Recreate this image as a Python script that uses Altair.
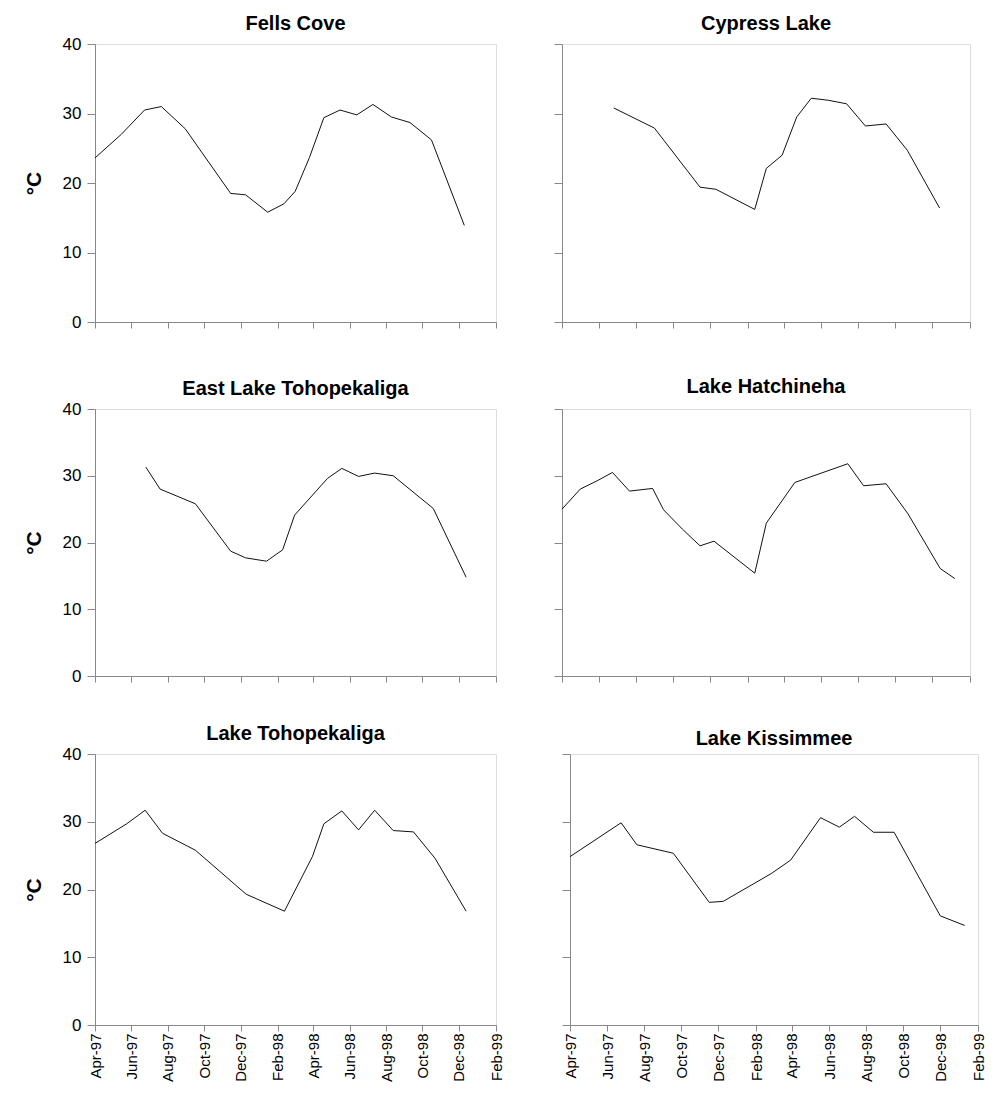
import altair as alt
import pandas as pd

# ---- data (water temperature, deg C) ----
fells_dates = ["1997-04-01", "1997-05-15", "1997-06-23", "1997-07-21", "1997-08-30",
               "1997-11-14", "1997-12-09", "1998-01-15", "1998-02-11", "1998-03-02",
               "1998-03-26", "1998-04-19", "1998-05-16", "1998-06-13", "1998-07-10",
               "1998-08-10", "1998-09-10", "1998-10-16", "1998-12-10"]
fells_temp = [23.6, 27.0, 30.5, 31.0, 27.8, 18.5, 18.3, 15.8, 17.0, 18.8,
              23.7, 29.4, 30.5, 29.8, 31.3, 29.5, 28.7, 26.2, 13.9]

cypress_dates = ["1997-06-25", "1997-08-31", "1997-11-14", "1997-12-10", "1998-02-12",
                 "1998-03-03", "1998-03-29", "1998-04-22", "1998-05-16", "1998-06-13",
                 "1998-07-13", "1998-08-13", "1998-09-16", "1998-10-21", "1998-12-13"]
cypress_temp = [30.8, 27.9, 19.4, 19.1, 16.2, 22.1, 24.0, 29.5, 32.2, 31.9,
                31.4, 28.2, 28.5, 24.7, 16.4]

eastlake_dates = ["1997-06-25", "1997-07-19", "1997-09-16", "1997-11-14", "1997-12-09",
                  "1998-01-13", "1998-02-09", "1998-03-01", "1998-04-25", "1998-05-19",
                  "1998-06-16", "1998-07-13", "1998-08-13", "1998-10-19", "1998-12-13"]
eastlake_temp = [31.3, 28.0, 25.8, 18.7, 17.7, 17.2, 18.9, 24.1, 29.6, 31.1,
                 29.9, 30.4, 30.0, 25.1, 14.8]

hatch_dates = ["1997-04-01", "1997-05-01", "1997-05-30", "1997-06-23", "1997-07-21",
               "1997-08-28", "1997-09-15", "1997-10-16", "1997-11-14", "1997-12-07",
               "1998-02-12", "1998-03-03", "1998-04-19", "1998-07-15", "1998-08-10",
               "1998-09-16", "1998-10-22", "1998-12-14", "1999-01-07"]
hatch_temp = [25.0, 28.0, 29.3, 30.5, 27.7, 28.1, 24.9, 22.0, 19.5, 20.2,
              15.4, 22.9, 29.0, 31.8, 28.5, 28.8, 24.3, 16.1, 14.6]

toho_dates = ["1997-04-01", "1997-05-24", "1997-06-24", "1997-07-23", "1997-09-16",
              "1997-12-10", "1998-02-12", "1998-03-31", "1998-04-19", "1998-05-19",
              "1998-06-16", "1998-07-13", "1998-08-13", "1998-09-16", "1998-10-22",
              "1998-12-13"]
toho_temp = [26.8, 29.7, 31.7, 28.3, 25.8, 19.3, 16.8, 24.9, 29.7, 31.6,
             28.8, 31.7, 28.7, 28.5, 24.6, 16.8]

kiss_dates = ["1997-04-01", "1997-06-24", "1997-07-20", "1997-09-18", "1997-11-16",
              "1997-12-09", "1998-02-26", "1998-03-30", "1998-05-18", "1998-06-18",
              "1998-07-13", "1998-08-13", "1998-09-16", "1998-12-01", "1999-01-10"]
kiss_temp = [24.85, 29.85, 26.6, 25.35, 18.1, 18.25, 22.35, 24.35, 30.6, 29.2,
             30.8, 28.45, 28.45, 16.1, 14.7]

tick_dates = ["1997-04-01", "1997-06-01", "1997-08-01", "1997-10-01", "1997-12-01",
              "1998-02-01", "1998-04-01", "1998-06-01", "1998-08-01", "1998-10-01",
              "1998-12-01", "1999-02-01"]
y_ticks = [0, 10, 20, 30, 40]
y_title = "°C"


def dt(s):
    y, m, d = map(int, s.split("-"))
    return alt.DateTime(year=y, month=m, date=d)


def panel(title, dates, temps, width, height, show_y, show_x, title_offset):
    df = pd.DataFrame({"date": [d + "T00:00:00" for d in dates], "temp": temps})
    xkw = dict(values=[dt(s) for s in tick_dates], format="%b-%y", tickSize=6,
               labels=show_x, title=None, grid=False)
    if show_x:
        xkw.update(labelAngle=270, labelAlign="right", labelBaseline="middle",
                   labelPadding=2, labelFontSize=15, labelOverlap=False)
    ykw = dict(values=y_ticks, tickSize=8, labels=show_y, grid=False)
    if show_y:
        ykw.update(title=y_title, labelPadding=6, labelFontSize=17,
                   titleFontSize=21, titleFontWeight="bold", titlePadding=18)
    else:
        ykw.update(title=None)
    return alt.Chart(df).mark_line(color="#111111", strokeWidth=1).encode(
        x=alt.X("date:T", scale=alt.Scale(domain=[dt(tick_dates[0]), dt(tick_dates[-1])]),
                axis=alt.Axis(**xkw)),
        y=alt.Y("temp:Q", scale=alt.Scale(domain=[0, 40], nice=False),
                axis=alt.Axis(**ykw)),
    ).properties(
        width=width, height=height,
        title=alt.TitleParams(title, fontSize=20, fontWeight="bold", font="Liberation Sans",
                              color="#000000", offset=title_offset, frame="group"),
    )


LW, RW = 401, 408
p1 = panel("Fells Cove", fells_dates, fells_temp, LW, 278, True, False, 1)
p2 = panel("Cypress Lake", cypress_dates, cypress_temp, RW, 278, False, False, 9.5)
p3 = panel("East Lake Tohopekaliga", eastlake_dates, eastlake_temp, LW, 267, True, False, 1)
p4 = panel("Lake Hatchineha", hatch_dates, hatch_temp, RW, 267, False, False, 12)
p5 = panel("Lake Tohopekaliga", toho_dates, toho_temp, LW, 271, True, True, 1)
p6 = panel("Lake Kissimmee", kiss_dates, kiss_temp, RW, 271, False, True, 5)

row1 = alt.hconcat(p1, p2, spacing=56)
row2 = alt.hconcat(p3, p4, spacing=56)
row3 = alt.hconcat(p5, p6, spacing=56)

chart = alt.vconcat(alt.vconcat(row1, row2, spacing=45), row3, spacing=38).properties(
    padding={"left": 14, "top": 5, "right": 0, "bottom": 0}
).configure_view(
    stroke="#000000", strokeWidth=1
).configure_axis(
    domainColor="#000000", tickColor="#000000", labelColor="#222222",
    labelFont="Liberation Sans", titleFont="Liberation Sans", titleColor="#111111",
    domainWidth=1, tickWidth=1
).configure(background="white")

chart.save("out.html", embed_options={"renderer": "svg", "actions": False})
